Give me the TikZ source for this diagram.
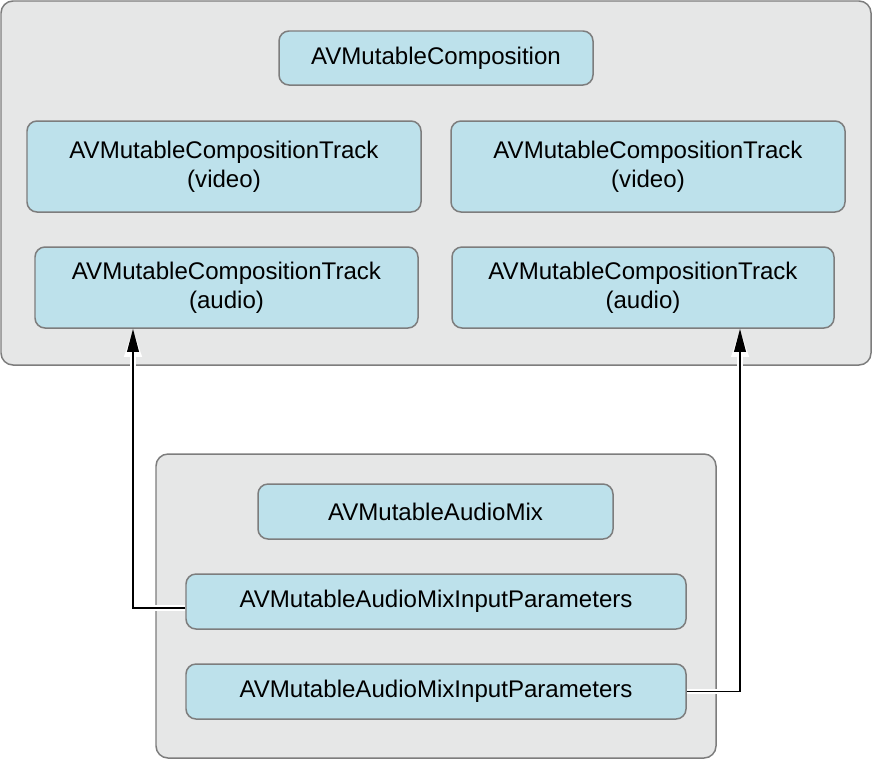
\documentclass[tikz,border=0pt]{standalone}
\usepackage{fontspec}
\setmainfont{Liberation Sans}
\usetikzlibrary{arrows.meta, positioning}

\definecolor{panelgray}{RGB}{230,231,231}
\definecolor{edgegray}{RGB}{125,125,125}
\definecolor{classblue}{RGB}{189,225,235}

\begin{document}
\begin{tikzpicture}[
        panel/.style={
            draw=edgegray,
            fill=panelgray,
            line width=0.85pt,
            rounded corners=0.24cm
        },
        cls/.style={
            rectangle,
            draw=edgegray,
            fill=classblue,
            line width=0.85pt,
            rounded corners=0.2cm,
            inner sep=0pt,
            align=center,
            font=\fontsize{13.7}{16.5}\selectfont
        },
        link/.style={
            -{Triangle[length=0.46cm,width=0.23cm]},
            line width=1.1pt,
            draw=black,
            preaction={draw=white, line width=3pt,
                -{Triangle[length=0.56cm,width=0.33cm]}}
        }
    ]

    \useasboundingbox (0,0) rectangle (17.44,-15.18);

    % composition side
    \draw [panel] (0.02,-0.02) rectangle (17.42,-7.30);
    \node (comp) [cls, minimum width=6.28cm, minimum height=1.08cm] at (8.72,-1.16) {AVMutableComposition};
    \node (vidL) [cls, minimum width=7.88cm, minimum height=1.82cm] at (4.48,-3.33) {AVMutableCompositionTrack\\(video)};
    \node (vidR) [cls, minimum width=7.88cm, minimum height=1.82cm] at (12.96,-3.33) {AVMutableCompositionTrack\\(video)};
    \node (audL) [cls, minimum width=7.66cm, minimum height=1.62cm] at (4.53,-5.75) {AVMutableCompositionTrack\\(audio)};
    \node (audR) [cls, minimum width=7.64cm, minimum height=1.62cm] at (12.86,-5.75) {AVMutableCompositionTrack\\(audio)};

    % audio mix side
    \draw [panel] (3.12,-9.08) rectangle (14.32,-15.16);
    \node (mix) [cls, minimum width=7.10cm, minimum height=1.10cm] at (8.71,-10.23) {AVMutableAudioMix};
    \node (parA) [cls, minimum width=10cm, minimum height=1.10cm] at (8.72,-12.03) {AVMutableAudioMixInputParameters};
    \node (parB) [cls, minimum width=10cm, minimum height=1.10cm] at (8.72,-13.83) {AVMutableAudioMixInputParameters};

    \coordinate (railL) at (2.66,-12.16);
    \coordinate (railR) at (14.80,-13.83);

    \draw [link] ([yshift=-0.13cm]parA.west) -| (audL.south -| railL);
    \draw [link] (parB.east) -| (audR.south -| railR);

\end{tikzpicture}
\end{document}
